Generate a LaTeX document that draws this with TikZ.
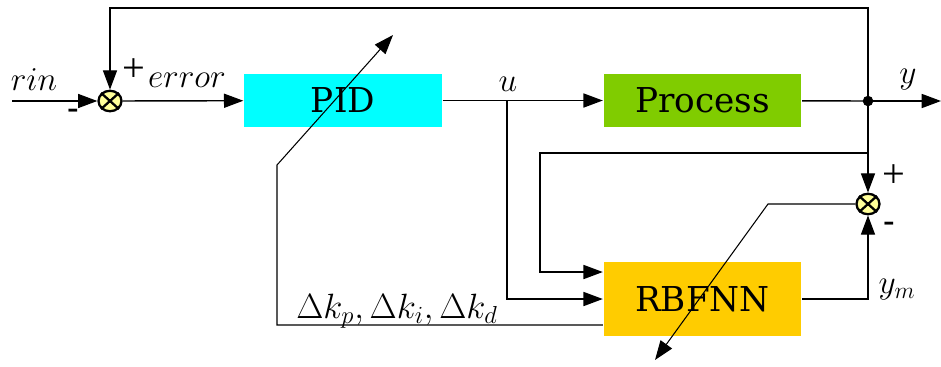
\RequirePackage{fix-cm}
\documentclass[tikz,border=0pt]{standalone}
\usepackage{fontspec}
\setmainfont{Liberation Serif}
\newfontfamily\boxfont{DejaVu Serif}
\usetikzlibrary{arrows.meta,positioning,shapes.geometric}
\definecolor{pidcyan}{HTML}{00FFFF}
\definecolor{procgreen}{HTML}{80CC00}
\definecolor{nnorange}{HTML}{FFCC00}
\definecolor{sumfill}{HTML}{FFFF99}

\begin{document}
\begin{tikzpicture}[
  x=0.02cm, y=-0.02cm,
  line width=0.8pt,
  block/.style={
    rectangle,
    minimum width=3.96cm,
    minimum height=1.06cm,
    inner sep=0pt,
    font=\boxfont\fontsize{19.5}{22}\selectfont
  },
  summer/.style={
    ellipse,
    draw,
    line width=1.3pt,
    fill=sumfill,
    minimum width=0.46cm,
    minimum height=0.41cm,
    inner sep=0pt
  },
  lbl/.style={inner sep=0pt, font=\fontsize{19}{22}\selectfont},
  sig/.style={-{Triangle[length=11pt,width=8pt]}}
]
\useasboundingbox (0,0) rectangle (941,366);

\node[block, fill=pidcyan] (pid) at (343,100.5) {PID};
\node[block, fill=procgreen] (proc) at (702.5,100.5) {Process};
\node[block, fill=nnorange, minimum height=1.48cm] (nn) at (702.5,299) {RBFNN};
\node[summer] (s1) at (110,101) {};
\node[summer] (s2) at (868,204) {};
\draw[line width=1.3pt] (s1.north west) -- (s1.south east) (s1.north east) -- (s1.south west);
\draw[line width=1.3pt] (s2.north west) -- (s2.south east) (s2.north east) -- (s2.south west);

\coordinate (rin) at (12,101);
\coordinate (uj) at (507,101);
\coordinate (yj) at (868,101);
\coordinate (yout) at (941,101);
\coordinate (top) at (868,8);
\coordinate (tap) at (868,153);
\coordinate (kbend) at (277,165);
\coordinate (ktip) at (393,35);
\coordinate (nbend) at (768,204);
\coordinate (ntip) at (655,360);

% forward path
\draw[sig] (rin) -- (s1);
\draw[sig] (s1) -- (pid);
\draw[sig] (pid) -- (proc);
\draw (proc) -- (yj);
\draw[sig] (yj) -- (yout);
\fill (yj) circle (3pt);

% feedback and identification
\draw[sig] (yj) -- (top) -| (s1);
\draw[sig] (yj) -- (s2);
\draw[sig] (tap) -- ++(-328,0) |- ([yshift=0.54cm]nn.west);
\draw[sig] (uj) |- (nn.west);
\draw[sig] (nn.east) -| (s2);

% tuning arrows
\draw[sig, line width=0.6pt] ([yshift=-0.52cm]nn.west) -| (kbend) -- (ktip);
\draw[sig, line width=0.6pt] (s2) -- (nbend) -- (ntip);

% labels
\node[lbl] (rinlbl) at (34,80) {$rin$};
\node[lbl] (m1) at (73,114) {\textbf{-}};
\node[lbl, font=\fontsize{23}{26}\selectfont] (p1) at (134,70) {+};
\node[lbl] (errlbl) at (187,80) {$error$};
\node[lbl] (ulbl) at (508,84) {$u$};
\node[lbl] (ylbl) at (908,80) {$y$};
\node[lbl, font=\fontsize{23}{26}\selectfont] (p2) at (894,176) {+};
\node[lbl] (m2) at (889,227) {\textbf{-}};
\node[lbl] (ymlbl) at (897,290) {$y_m$};
\node[lbl, font=\fontsize{20}{24}\selectfont] (klbl) at (397,311) {$\Delta k_p,\Delta k_i,\Delta k_d$};

\end{tikzpicture}
\end{document}
